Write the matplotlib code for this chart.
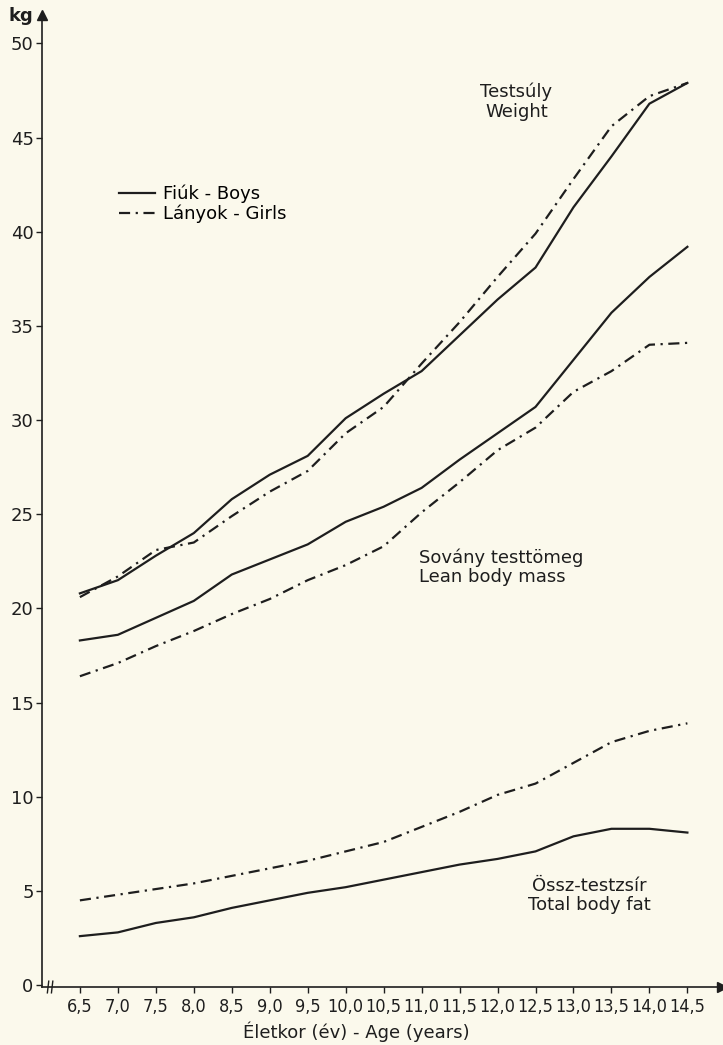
import matplotlib.pyplot as plt

# age groups (years)
ages = [6.5, 7.0, 7.5, 8.0, 8.5, 9.0, 9.5, 10.0, 10.5, 11.0, 11.5, 12.0, 12.5, 13.0, 13.5, 14.0, 14.5]
age_labels = ["6,5", "7,0", "7,5", "8,0", "8,5", "9,0", "9,5", "10,0", "10,5",
              "11,0", "11,5", "12,0", "12,5", "13,0", "13,5", "14,0", "14,5"]

# Testsúly - Weight (kg)
weight_boys = [20.8, 21.5, 22.8, 24.0, 25.8, 27.1, 28.1, 30.1, 31.4, 32.6, 34.5, 36.4, 38.1, 41.3, 44.0, 46.8, 47.9]
weight_girls = [20.6, 21.7, 23.1, 23.5, 24.9, 26.2, 27.3, 29.3, 30.7, 33.0, 35.2, 37.6, 39.9, 42.8, 45.6, 47.2, 47.9]

# Sovány testtömeg - Lean body mass (kg)
lean_boys = [18.3, 18.6, 19.5, 20.4, 21.8, 22.6, 23.4, 24.6, 25.4, 26.4, 27.9, 29.3, 30.7, 33.2, 35.7, 37.6, 39.2]
lean_girls = [16.4, 17.1, 18.0, 18.8, 19.7, 20.5, 21.5, 22.3, 23.3, 25.1, 26.7, 28.4, 29.6, 31.5, 32.6, 34.0, 34.1]

# Össz-testzsír - Total body fat (kg)
fat_boys = [2.6, 2.8, 3.3, 3.6, 4.1, 4.5, 4.9, 5.2, 5.6, 6.0, 6.4, 6.7, 7.1, 7.9, 8.3, 8.3, 8.1]
fat_girls = [4.5, 4.8, 5.1, 5.4, 5.8, 6.2, 6.6, 7.1, 7.6, 8.4, 9.2, 10.1, 10.7, 11.8, 12.9, 13.5, 13.9]

paper = "#fbf9ec"
ink = "#1e1e1e"
girls_ls = (0, (5, 2.5, 1, 2.5))

plt.rcParams['font.family'] = ['DejaVu Sans']

fig = plt.figure(figsize=(7.23, 10.45), dpi=100, facecolor=paper)
ax = fig.add_axes([0.058, 0.0555, 0.94, 0.93], facecolor=paper)

for boys, girls in [(weight_boys, weight_girls), (lean_boys, lean_girls), (fat_boys, fat_girls)]:
    ax.plot(ages, boys, color=ink, lw=1.6, solid_joinstyle="round")
    ax.plot(ages, girls, color=ink, lw=1.6, linestyle=girls_ls)

ax.set_xlim(6.0, 14.95)
ax.set_ylim(-0.1, 51.5)
ax.set_xticks(ages)
ax.set_xticklabels(age_labels, fontsize=13, fontstretch="condensed")
ax.set_yticks(range(0, 51, 5))
ax.tick_params(axis="y", labelsize=13, length=4, width=1, color=ink, labelcolor=ink, pad=2)
ax.tick_params(axis="x", length=4, width=1, color=ink, labelcolor=ink, pad=4)

for s in ["top", "right"]:
    ax.spines[s].set_visible(False)
for s in ["left", "bottom"]:
    ax.spines[s].set_color(ink)
    ax.spines[s].set_linewidth(1.2)

# arrow heads on axes
ax.plot(1, -0.1, ">", color=ink, ms=7, transform=ax.get_yaxis_transform(), clip_on=False)
ax.plot(6.0, 1, "^", color=ink, ms=7, transform=ax.get_xaxis_transform(), clip_on=False)

# axis break mark near origin
for dx in [0.008, 0.014]:
    ax.plot([dx, dx + 0.002], [-0.006, 0.006], color=ink, lw=1, transform=ax.transAxes, clip_on=False)

fig.text(0.012, 0.985, "kg", fontsize=13, color=ink, ha="left", va="center", fontweight="bold")
ax.set_xlabel("Életkor (év) - Age (years)", fontsize=13, color=ink, labelpad=4)
ax.xaxis.set_label_coords(0.463, -0.035)

ax.text(12.25, 46.9, "Testsúly\nWeight", fontsize=13, color=ink, ha="center", va="center", linespacing=1.2)
ax.text(10.97, 22.2, "Sovány testtömeg\nLean body mass", fontsize=13, color=ink, ha="left", va="center", linespacing=1.1)
ax.text(13.21, 4.75, "Össz-testzsír\nTotal body fat", fontsize=13, color=ink, ha="center", va="center", linespacing=1.1)

ax.legend(handles=[plt.Line2D([], [], color=ink, lw=1.6),
                   plt.Line2D([], [], color=ink, lw=1.6, linestyle=girls_ls)],
          labels=["Fiúk - Boys", "Lányok - Girls"], loc="upper left",
          bbox_to_anchor=(0.09, 0.842), frameon=False, fontsize=13,
          handlelength=2.0, handletextpad=0.4, labelspacing=0.05)

fig.savefig("out.png", dpi=100, facecolor=paper)
